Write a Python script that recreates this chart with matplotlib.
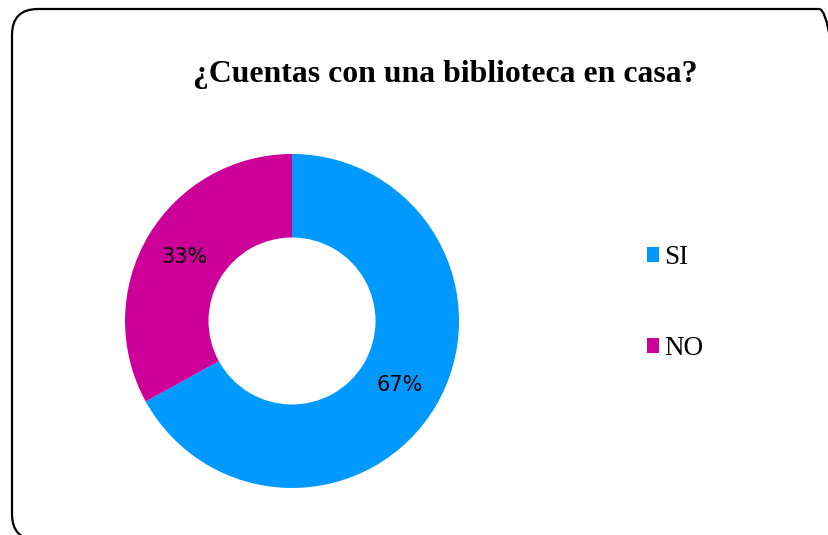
import matplotlib.pyplot as plt
from matplotlib.patches import FancyBboxPatch
from matplotlib.transforms import IdentityTransform

labels = ['SI', 'NO']
values = [67, 33]
colors = ['#0099FF', '#CC0099']

fig = plt.figure(figsize=(8.29, 5.35), dpi=100)

# rounded frame around the chart (pixel coords)
frame = FancyBboxPatch((12, -5), 833, 531, boxstyle="round,pad=0,rounding_size=26",
                       transform=IdentityTransform(), fill=False, edgecolor='black',
                       linewidth=1.6)
fig.patches.append(frame)

fig.text(0.537, 0.861, '¿Cuentas con una biblioteca en casa?', ha='center', va='center',
         fontsize=22.9, fontweight='bold', family='Liberation Serif')

ax = fig.add_axes([0.1508, 0.0879, 0.4029, 0.6243])
wedges, texts, autotexts = ax.pie(values, colors=colors, startangle=90, counterclock=False,
                                  wedgeprops=dict(width=0.5, edgecolor='none'),
                                  autopct='%1.0f%%', pctdistance=0.75,
                                  textprops=dict(fontsize=15, family='DejaVu Sans', color='black'))
ax.set_xlim(-1, 1)
ax.set_ylim(-1, 1)
ax.set_aspect('equal')

fig.legend(wedges, labels, loc='center left', bbox_to_anchor=(633 / 829, (535 - 303) / 535),
           frameon=False, prop=dict(family='Liberation Serif', size=19.5),
           handlelength=0.45, handleheight=0.45, handletextpad=0.2, labelspacing=2.43,
           borderpad=0)

fig.savefig('out.png', dpi=100)
